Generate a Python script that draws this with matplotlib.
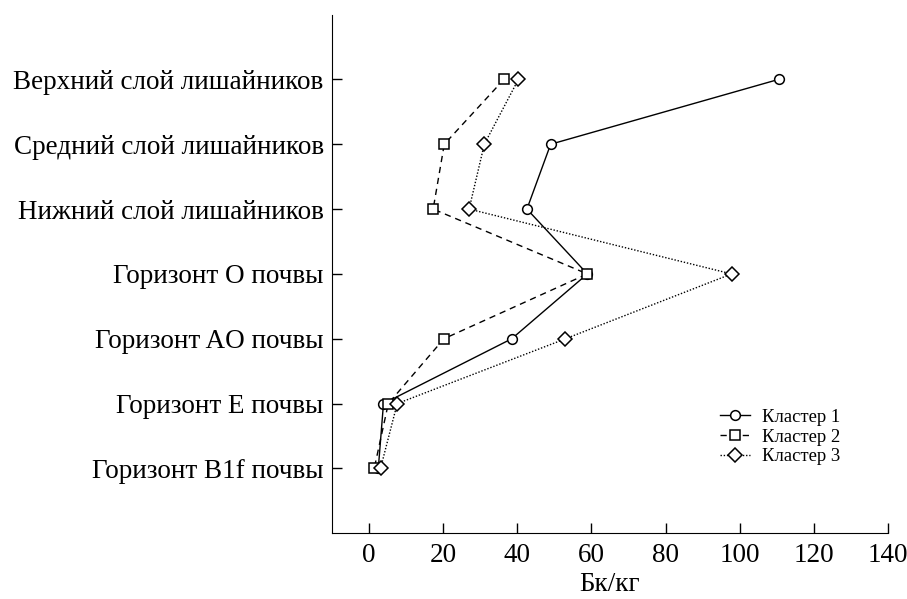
import matplotlib.pyplot as plt

plt.rcParams['font.family'] = ['Liberation Serif', 'DejaVu Serif']

# категории (сверху вниз)
layers = ['Верхний слой лишайников', 'Средний слой лишайников', 'Нижний слой лишайников',
          'Горизонт O почвы', 'Горизонт AO почвы', 'Горизонт E почвы', 'Горизонт B1f почвы']

# значения, Бк/кг
cluster1 = [110.5, 49.0, 42.6, 58.9, 38.5, 3.9, 2.5]
cluster2 = [36.4, 20.3, 17.3, 58.9, 20.2, 5.2, 1.4]
cluster3 = [40.3, 31.1, 27.0, 97.8, 53.0, 7.6, 3.1]

xticks = [0, 20, 40, 60, 80, 100, 120, 140]

ypos = list(range(len(layers) - 1, -1, -1))

fig = plt.figure(figsize=(9.07, 5.99), dpi=100)
ax = fig.add_axes([0.366, 0.1097, 0.613, 0.866])

ax.plot(cluster1, ypos, color='black', linestyle='-', linewidth=1.0, marker='o',
        markersize=7, markerfacecolor='white', markeredgecolor='black',
        markeredgewidth=1.1, label='Кластер 1')
ax.plot(cluster2, ypos, color='black', linestyle=(0, (4.5, 3.5)), linewidth=1.0, marker='s',
        markersize=7, markerfacecolor='white', markeredgecolor='black',
        markeredgewidth=1.1, label='Кластер 2')
ax.plot(cluster3, ypos, color='black', linestyle=(0, (1, 1.3)), linewidth=1.0, marker='D',
        markersize=7, markerfacecolor='white', markeredgecolor='black',
        markeredgewidth=1.1, label='Кластер 3')

ax.set_xlim(-10, 140)
ax.set_ylim(-1, 7)
ax.set_xticks(xticks)
ax.set_yticks(ypos)
ax.set_yticklabels(layers)
ax.tick_params(direction='in', length=7, width=1, labelsize=19.5)
ax.tick_params(axis='y', pad=6)
ax.tick_params(axis='x', pad=7)
ax.spines['top'].set_visible(False)
ax.spines['right'].set_visible(False)
ax.set_xlabel('Бк/кг', fontsize=19.5, labelpad=3)

ax.legend(loc='center left', bbox_to_anchor=(720 / 907, 1 - 437 / 599),
          bbox_transform=fig.transFigure, frameon=False, fontsize=13.4,
          borderpad=0, borderaxespad=0, handlelength=1.6, handletextpad=0.65,
          labelspacing=0.15)

fig.savefig('out.png', dpi=100)
